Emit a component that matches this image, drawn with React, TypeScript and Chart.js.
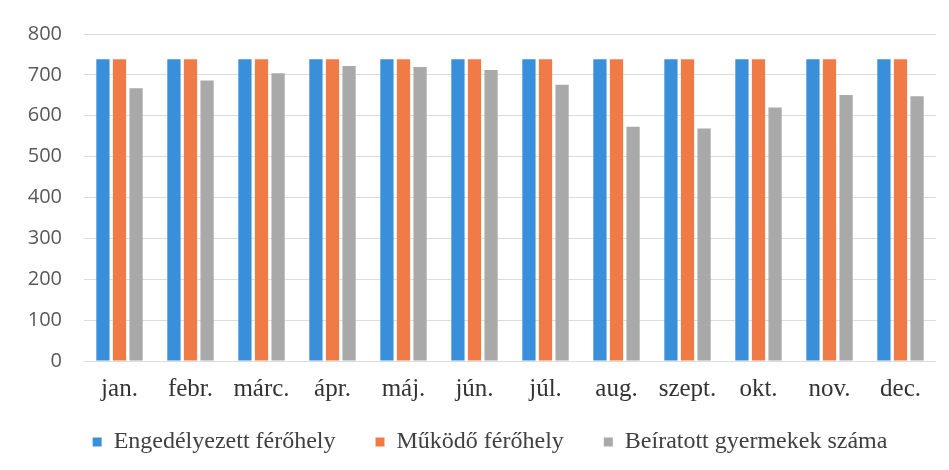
import React, { useEffect, useRef } from "react";
import { Chart, registerables } from "chart.js";

Chart.register(...registerables);

const months = ["jan.", "febr.", "márc.", "ápr.", "máj.", "jún.", "júl.", "aug.", "szept.", "okt.", "nov.", "dec."];
const engedelyezett = [738, 738, 738, 738, 738, 738, 738, 738, 738, 738, 738, 738];
const mukodo = [738, 738, 738, 738, 738, 738, 738, 738, 738, 738, 738, 738];
const beiratott = [667, 686, 704, 722, 719, 712, 676, 573, 569, 620, 651, 648];
const seriesNames = ["Engedélyezett férőhely", "Működő férőhely", "Beíratott gyermekek száma"];

const legendShift = {
  id: "legendShift",
  afterLayout(chart: any) {
    const l = chart.legend;
    if (l) {
      l.top -= 14;
      l.bottom += 15;
      l.left += 37;
    }
  },
};

export default function App() {
  const ref = useRef<HTMLCanvasElement | null>(null);
  useEffect(() => {
    if (!ref.current) return;
    const chart = new Chart(ref.current, {
      type: "bar",
      data: {
        labels: months,
        datasets: [
          { label: seriesNames[0], data: engedelyezett, backgroundColor: "#3a8fda" },
          { label: seriesNames[1], data: mukodo, backgroundColor: "#f07b47" },
          { label: seriesNames[2], data: beiratott, backgroundColor: "#a9a9a9" },
        ],
      },
      plugins: [legendShift],
      options: {
        animation: false,
        responsive: false,
        maintainAspectRatio: false,
        layout: { padding: { top: 23, right: 13, bottom: 20, left: 7 } },
        datasets: { bar: { categoryPercentage: 0.7, barPercentage: 0.8 } },
        plugins: {
          tooltip: { enabled: false },
          legend: {
            position: "bottom",
            maxHeight: 46,
            labels: {
              boxWidth: 9,
              boxHeight: 9,
              padding: 40,
              color: "#404040",
              font: { family: "'Liberation Serif', serif", size: 24 },
            },
          },
        },
        scales: {
          x: {
            grid: { display: false, drawTicks: false },
            border: { display: false },
            ticks: {
              padding: 13,
              color: "#333333",
              font: { family: "'Liberation Serif', serif", size: 25 },
              maxRotation: 0,
              autoSkip: false,
            },
            afterFit: (s: any) => {
              s.height = 43;
            },
          },
          y: {
            min: 0,
            max: 800,
            grid: { color: "#dcdcdc", lineWidth: 1, drawTicks: false },
            border: { display: false },
            ticks: {
              stepSize: 100,
              padding: 22,
              color: "#595959",
              font: { family: "'Open Sans', sans-serif", size: 20 },
            },
            afterFit: (s: any) => {
              s.width = 77;
            },
          },
        },
      },
    });
    return () => chart.destroy();
  }, []);
  return (
    <div style={{ position: "fixed", left: 0, top: 0, width: 949, height: 470, background: "#fff" }}>
      <canvas ref={ref} width={949} height={470} style={{ width: 949, height: 470 }} />
    </div>
  );
}
